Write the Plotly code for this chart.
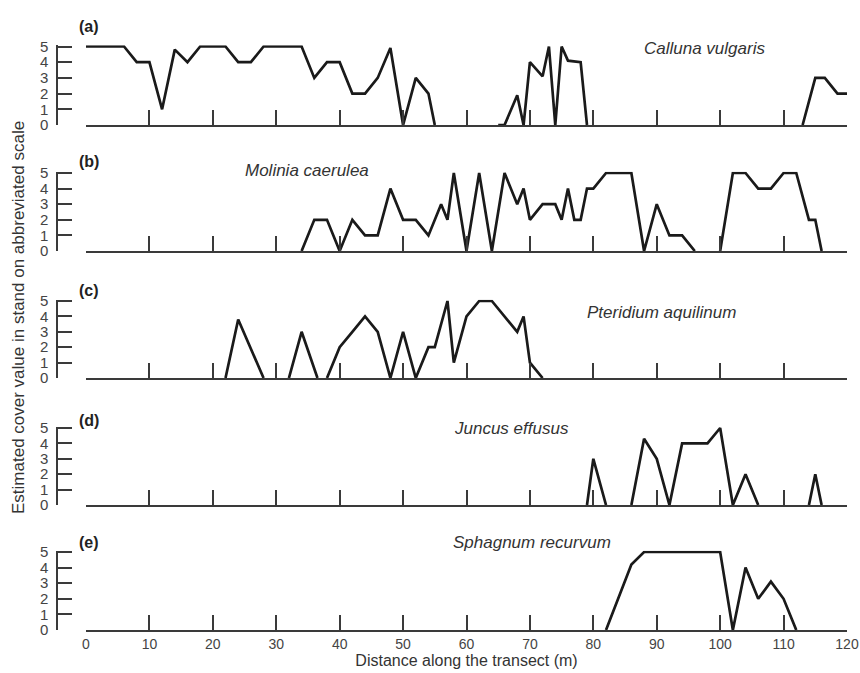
import plotly.graph_objects as go

# ---------------- data (distance in m, cover value 0-5) ----------------
dist_calluna = [0, 6, 8, 10, 12, 14, 16, 18, 22, 24, 26, 28, 34, 36, 38, 40, 42, 44, 46, 48, 50, 52, 54, 55,
                None, 65, 66, 68, 69, 70, 72, 73, 74, 75, 76, 78, 79,
                None, 113, 115, 116.5, 118.5, 120]
cover_calluna = [5, 5, 4, 4, 1, 4.8, 4, 5, 5, 4, 4, 5, 5, 3, 4, 4, 2, 2, 3, 4.9, 0, 3, 2, 0,
                 None, 0, 0, 1.9, 0, 4, 3.1, 5, 0, 5, 4.1, 4, 0,
                 None, 0, 3, 3, 2, 2]

dist_molinia = [34, 36, 38, 40, 42, 44, 46, 48, 50, 52, 54, 56, 57, 58, 60, 62, 64, 66, 68, 69, 70, 72, 74, 75,
                76, 77, 78, 79, 80, 82, 86, 88, 90, 92, 94, 96,
                None, 100, 102, 104, 106, 108, 110, 112, 114, 115, 116]
cover_molinia = [0, 2, 2, 0, 2, 1, 1, 4, 2, 2, 1, 3, 2, 5, 0, 5, 0, 5, 3, 4, 2, 3, 3, 2,
                 4, 2, 2, 4, 4, 5, 5, 0, 3, 1, 1, 0,
                 None, 0, 5, 5, 4, 4, 5, 5, 2, 2, 0]

dist_pteridium = [22, 24, 28, None, 32, 34, 36.5, None, 38, 40, 42, 44, 46, 48, 50, 52, 54, 55, 57, 58,
                  60, 62, 64, 68, 69, 70, 72]
cover_pteridium = [0, 3.8, 0, None, 0, 3, 0, None, 0, 2, 3, 4, 3, 0, 3, 0, 2, 2, 5, 1,
                   4, 5, 5, 3, 4, 1, 0]

dist_juncus = [79, 80, 82, None, 86, 88, 90, 92, 94, 98, 100, 102, 104, 106, None, 114, 115, 116]
cover_juncus = [0, 3, 0, None, 0, 4.3, 3, 0, 4, 4, 5, 0, 2, 0, None, 0, 2, 0]

dist_sphagnum = [82, 86, 88, 100, 102, 104, 106, 108, 110, 112]
cover_sphagnum = [0, 4.2, 5, 5, 0, 4, 2, 3.1, 2, 0]

species = ["Calluna vulgaris", "Molinia caerulea", "Pteridium aquilinum", "Juncus effusus", "Sphagnum recurvum"]
panel_tags = ["(a)", "(b)", "(c)", "(d)", "(e)"]
x_ticks = [0, 10, 20, 30, 40, 50, 60, 70, 80, 90, 100, 110, 120]
y_ticks = [0, 1, 2, 3, 4, 5]

series = [(dist_calluna, cover_calluna), (dist_molinia, cover_molinia), (dist_pteridium, cover_pteridium),
          (dist_juncus, cover_juncus), (dist_sphagnum, cover_sphagnum)]

# ---------------- layout geometry (pixels) ----------------
W, H = 860, 673
X_LEFT, X_RIGHT = 86, 847
Y_AXIS_X = 57
base_px = [125, 251, 378, 505, 630]   # pixel row of value 0
top5_px = [46.5, 173, 301, 428, 552]  # pixel row of value 5
Y_MAX = 5.08
tag_y_px = [27, 161, 290, 420, 542]
species_pos_px = [(704, 49), (307, 170), (661, 312), (511, 428), (532, 542)]

LINE_COL = "#1a1a1a"
AXIS_COL = "#3a3a3a"
FONT = "Liberation Sans, Arial, sans-serif"

fig = go.Figure()
layout = dict(
    width=W, height=H,
    margin=dict(l=0, r=0, t=0, b=0, autoexpand=False),
    paper_bgcolor="white", plot_bgcolor="rgba(0,0,0,0)",
    showlegend=False,
    font=dict(family=FONT, color=AXIS_COL),
)

annotations = []
for i, ((xs, ys), name, tag) in enumerate(zip(series, species, panel_tags)):
    n = "" if i == 0 else str(i + 1)
    fig.add_trace(go.Scatter(x=xs, y=ys, mode="lines", connectgaps=False,
                             line=dict(color=LINE_COL, width=2.7, shape="linear"),
                             xaxis="x" + n, yaxis="y" + n, hoverinfo="skip"))
    unit = (base_px[i] - top5_px[i]) / 5.0
    top_px = base_px[i] - Y_MAX * unit
    dom = [1 - base_px[i] / H, 1 - top_px / H]
    last = (i == 4)
    layout["xaxis" + n] = dict(
        domain=[X_LEFT / W, X_RIGHT / W], range=[0, 120], anchor="y" + n,
        showgrid=False, zeroline=False, showline=True, linecolor=AXIS_COL, linewidth=1.5,
        ticks="inside", ticklen=15, tickwidth=1.5, tickcolor=AXIS_COL,
        tickvals=x_ticks, showticklabels=last,
        tickfont=dict(size=14, color="#444444", family=FONT),
        automargin=False, fixedrange=True,
    )
    if last:
        layout["xaxis" + n]["title"] = dict(text="Distance along the transect (m)",
                                            font=dict(size=16, color="#333333", family=FONT),
                                            standoff=2)
    layout["yaxis" + n] = dict(
        domain=dom, range=[0, Y_MAX], anchor="free", position=Y_AXIS_X / W, side="left",
        showgrid=False, zeroline=False, showline=True, linecolor=AXIS_COL, linewidth=1.5,
        ticks="inside", ticklen=14, tickwidth=1.5, tickcolor=AXIS_COL,
        tickvals=y_ticks, ticktext=[str(v) for v in y_ticks],
        tickfont=dict(size=15, color="#444444", family=FONT),
        ticklabelstandoff=5, automargin=False, fixedrange=True,
    )
    annotations.append(dict(text="<b>" + tag + "</b>", x=89 / W, y=1 - tag_y_px[i] / H,
                            xref="paper", yref="paper", showarrow=False,
                            xanchor="center", yanchor="middle",
                            font=dict(size=16, color="#222222", family=FONT)))
    sx, sy = species_pos_px[i]
    annotations.append(dict(text="<i>" + name + "</i>", x=sx / W, y=1 - sy / H,
                            xref="paper", yref="paper", showarrow=False,
                            xanchor="center", yanchor="middle",
                            font=dict(size=17, color="#333333", family=FONT)))

annotations.append(dict(text="Estimated cover value in stand on abbreviated scale",
                        x=18 / W, y=1 - 318 / H, xref="paper", yref="paper", showarrow=False,
                        textangle=-90, xanchor="center", yanchor="middle",
                        font=dict(size=17, color="#333333", family=FONT)))
layout["annotations"] = annotations
fig.update_layout(**layout)
fig.write_html("out.html")
